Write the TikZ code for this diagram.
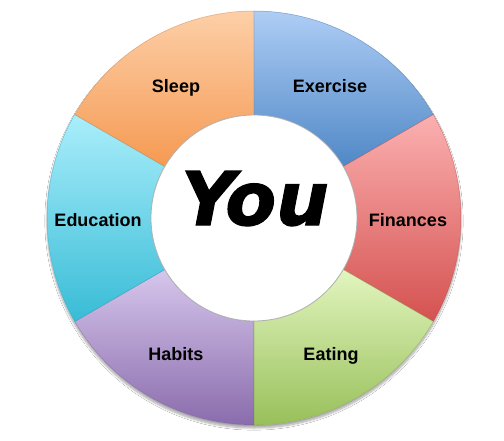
\documentclass[tikz,border=0pt]{standalone}
\usepackage{fontspec}
\setmainfont{Liberation Sans}
\newfontfamily\youfont{DejaVu Sans}[BoldItalicFeatures={FakeBold=1.6}]
\usetikzlibrary{shadows.blur}
\definecolor{exT}{HTML}{AECDF5}\definecolor{exB}{HTML}{4F88C6}
\definecolor{fiT}{HTML}{FBB0B0}\definecolor{fiB}{HTML}{D45250}
\definecolor{eaT}{HTML}{E2F5BF}\definecolor{eaB}{HTML}{98C05A}
\definecolor{haT}{HTML}{D6C6EC}\definecolor{haB}{HTML}{8A6CAC}
\definecolor{edT}{HTML}{AAEEFB}\definecolor{edB}{HTML}{38BCD6}
\definecolor{slT}{HTML}{FDCFA8}\definecolor{slB}{HTML}{F59A52}
\tikzset{
  lbl/.style={anchor=base, font=\fontsize{18}{20}\selectfont\bfseries, text=black, inner sep=0pt},
  segline/.style={draw=#1, line width=0.5pt}
}
\newcommand{\ringseg}[4]{%
  \shade[top color=#3, bottom color=#4]
    (#1:207pt) arc[start angle=#1, end angle=#2, radius=207pt]
    -- (#2:103pt) arc[start angle=#2, end angle=#1, radius=103pt] -- cycle;
  \draw[segline=#4!85!black, draw opacity=0.6]
    (#1:207pt) arc[start angle=#1, end angle=#2, radius=207pt]
    -- (#2:103pt) arc[start angle=#2, end angle=#1, radius=103pt] -- cycle;
}
\begin{document}
\begin{tikzpicture}[x=1pt,y=1pt]
\useasboundingbox (-254,-222) rectangle (250,218);
\fill[white] (-254,-222) rectangle (250,218);
% ring shadow
\fill[white, blur shadow={shadow xshift=0pt, shadow yshift=-3pt, shadow blur steps=8, shadow opacity=35}] (0,0) circle[radius=207pt];
\ringseg{30}{90}{exT}{exB}
\ringseg{-30}{30}{fiT}{fiB}
\ringseg{-90}{-30}{eaT}{eaB}
\ringseg{210}{270}{haT}{haB}
\ringseg{150}{210}{edT}{edB}
\ringseg{90}{150}{slT}{slB}
% inner circle
\fill[white] (0,0) circle[radius=103pt];
\draw[black!30, line width=0.8pt] (0,0) circle[radius=103pt];
\node[lbl] (sleep) at (-78,126) {Sleep};
\node[lbl] (exercise) at (76,126) {Exercise};
\node[lbl] (education) at (-156,-8) {Education};
\node[lbl] (finances) at (154,-8) {Finances};
\node[lbl] (habits) at (-78,-142) {Habits};
\node[lbl] (eating) at (77,-142) {Eating};
\node[anchor=base, inner sep=0pt, font=\youfont\fontsize{74}{84}\selectfont\bfseries\itshape] (you) at (1,-7) {You};
\end{tikzpicture}
\end{document}
